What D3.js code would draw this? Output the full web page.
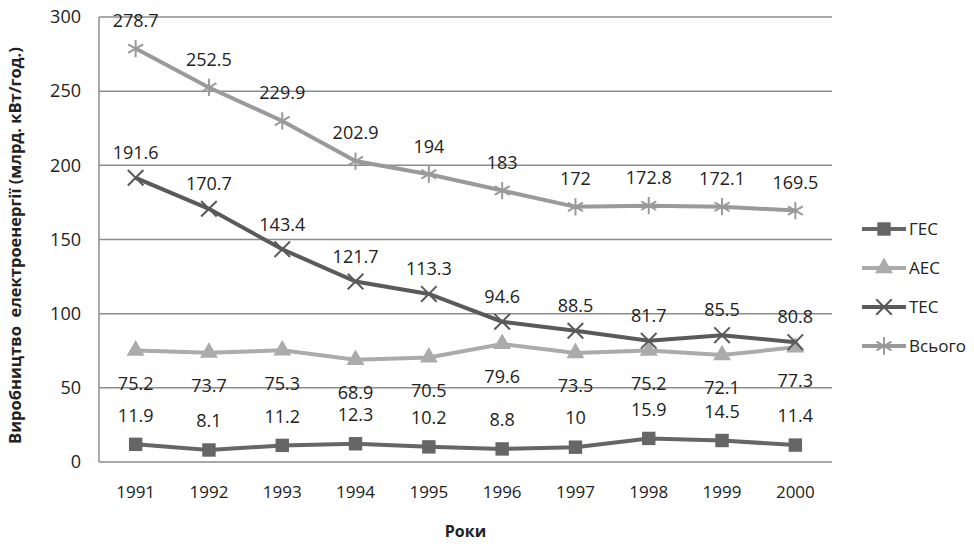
<!DOCTYPE html>
<html>
<head>
<meta charset="utf-8">
<script src="https://cdn.jsdelivr.net/npm/d3@7"></script>
<style>
  body { margin: 0; background: #fff; }
  text { font-family: "Open Sans", sans-serif; fill: #222; }
</style>
</head>
<body>
<div id="chart"></div>
<script>
// data
let years = ["1991", "1992", "1993", "1994", "1995", "1996", "1997", "1998", "1999", "2000"];
let hes = [11.9, 8.1, 11.2, 12.3, 10.2, 8.8, 10, 15.9, 14.5, 11.4];
let aes = [75.2, 73.7, 75.3, 68.9, 70.5, 79.6, 73.5, 75.2, 72.1, 77.3];
let tes = [191.6, 170.7, 143.4, 121.7, 113.3, 94.6, 88.5, 81.7, 85.5, 80.8];
let total = [278.7, 252.5, 229.9, 202.9, 194, 183, 172, 172.8, 172.1, 169.5];
let seriesNames = ["ГЕС", "АЕС", "ТЕС", "Всього"];
let yTicks = [0, 50, 100, 150, 200, 250, 300];

// set the dimensions and margins of the graph
let margin = {top: 17, right: 142, bottom: 85, left: 99},
    width = 974 - margin.left - margin.right,
    height = 547 - margin.top - margin.bottom;

let svg = d3.select("#chart")
    .append("svg")
    .attr("width", 974)
    .attr("height", 547)
    .append("g")
    .attr("transform", "translate(" + margin.left + "," + margin.top + ")");

let x = d3.scaleBand().domain(years).range([0, width]);
let y = d3.scaleLinear().domain([0, 300]).range([height, 0]);

// grid lines
svg.append("g")
    .selectAll("line")
    .data(yTicks)
    .join("line")
    .attr("x1", 0)
    .attr("x2", width)
    .attr("y1", d => y(d))
    .attr("y2", d => y(d))
    .attr("stroke", "#8c8c8c")
    .attr("stroke-width", 1.5);

svg.append("line")
    .attr("x1", 0).attr("x2", 0)
    .attr("y1", 0).attr("y2", height)
    .attr("stroke", "#8c8c8c")
    .attr("stroke-width", 1.5);

// y axis labels
let yAxis = svg.append("g")
    .call(d3.axisLeft(y).tickValues(yTicks).tickSize(0).tickPadding(18));
yAxis.select(".domain").remove();
yAxis.selectAll("text").style("font-size", "18px").style("font-family", "Open Sans").attr("fill", "#222");

// x axis labels
let xAxis = svg.append("g")
    .attr("transform", "translate(0," + height + ")")
    .call(d3.axisBottom(x).tickSize(0).tickPadding(24));
xAxis.select(".domain").remove();
xAxis.selectAll("text").style("font-size", "17px").style("font-family", "Open Sans").attr("fill", "#222");

// axis titles
svg.append("text")
    .attr("transform", "translate(" + (-78) + "," + (height / 2 + 6) + ") rotate(-90)")
    .attr("text-anchor", "middle")
    .style("font-size", "16.5px")
    .style("font-weight", "bold")
    .style("white-space", "pre")
    .text("Виробництво  електроенергії (млрд. кВт/год.)");

svg.append("text")
    .attr("x", width / 2)
    .attr("y", height + 75)
    .attr("text-anchor", "middle")
    .style("font-size", "16px")
    .style("font-weight", "bold")
    .text("Роки");

let series = [
    {name: seriesNames[0], values: hes, color: "#666666", symbol: d3.symbolSquare, size: 180, fill: true, dy: -29},
    {name: seriesNames[1], values: aes, color: "#ababab", symbol: d3.symbolTriangle, size: 140, fill: true, dy: 33},
    {name: seriesNames[2], values: tes, color: "#5a5a5a", symbol: d3.symbolTimes, size: 160, fill: false, dy: -25},
    {name: seriesNames[3], values: total, color: "#9a9a9a", symbol: d3.symbolAsterisk, size: 210, fill: false, dy: -28}
];

let cx = i => x(years[i]) + x.bandwidth() / 2;

series.forEach(s => {
    let line = d3.line()
        .x((d, i) => cx(i))
        .y(d => y(d));

    svg.append("path")
        .datum(s.values)
        .attr("fill", "none")
        .attr("stroke", s.color)
        .attr("stroke-width", 4)
        .attr("d", line);

    svg.append("g")
        .selectAll("path")
        .data(s.values)
        .join("path")
        .attr("transform", (d, i) => "translate(" + cx(i) + "," + y(d) + ")")
        .attr("d", d3.symbol(s.symbol, s.size))
        .attr("fill", s.fill ? s.color : "none")
        .attr("stroke", s.color)
        .attr("stroke-width", s.fill ? 0 : 2);

    svg.append("g")
        .selectAll("text")
        .data(s.values)
        .join("text")
        .attr("x", (d, i) => cx(i))
        .attr("y", d => y(d) + s.dy)
        .attr("dy", "0.35em")
        .attr("text-anchor", "middle")
        .style("font-size", "18px")
        .text(d => d);
});

// legend
let legend = svg.append("g")
    .attr("transform", "translate(" + (width + 30) + "," + 0 + ")");

series.forEach((s, i) => {
    let ly = 212 + i * 39;
    legend.append("line")
        .attr("x1", 0).attr("x2", 44)
        .attr("y1", ly).attr("y2", ly)
        .attr("stroke", s.color)
        .attr("stroke-width", 4);
    legend.append("path")
        .attr("transform", "translate(22," + ly + ")")
        .attr("d", d3.symbol(s.symbol, s.size))
        .attr("fill", s.fill ? s.color : "none")
        .attr("stroke", s.color)
        .attr("stroke-width", s.fill ? 0 : 2);
    legend.append("text")
        .attr("x", 47)
        .attr("y", ly)
        .attr("dy", "0.35em")
        .style("font-size", "17px")
        .text(s.name);
});
</script>
</body>
</html>
